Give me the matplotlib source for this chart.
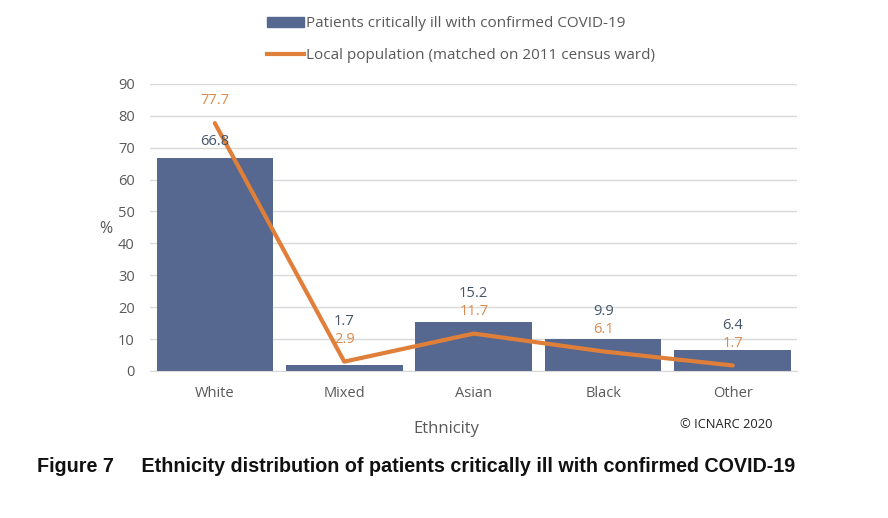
import matplotlib.pyplot as plt
from matplotlib.lines import Line2D
from matplotlib.patches import Patch

categories = ["White", "Mixed", "Asian", "Black", "Other"]
patients = [66.8, 1.7, 15.2, 9.9, 6.4]
population = [77.7, 2.9, 11.7, 6.1, 1.7]
yticks = [0, 10, 20, 30, 40, 50, 60, 70, 80, 90]

bar_col = "#56688F"
line_col = "#E07F39"
bar_lab = "#44546A"
line_lab = "#DA8A4E"
grey = "#595959"

plt.rcParams['font.family'] = ['Open Sans', 'DejaVu Sans']

fig = plt.figure(figsize=(8.88, 5.18), dpi=100)
ax = fig.add_axes([0.169, 0.284, 0.729, 0.554])

x = range(len(categories))
ax.bar(x, patients, width=0.9, color=bar_col, zorder=2)
ax.plot(x, population, color=line_col, lw=3, zorder=3, solid_capstyle='round')

fs = 10.5
for i, (b, p) in enumerate(zip(patients, population)):
    # line label sits above the point
    ax.annotate(f"{p}", (i, p), xytext=(0, 16), textcoords='offset points',
                ha='center', va='center', color=line_lab, fontsize=fs)
    if p > b + 5:
        # bar label just above the bar
        ax.annotate(f"{b}", (i, b), xytext=(0, 12), textcoords='offset points',
                    ha='center', va='center', color=bar_lab, fontsize=fs)
    else:
        # stack bar label above the line label
        ax.annotate(f"{b}", (i, p), xytext=(0, 29), textcoords='offset points',
                    ha='center', va='center', color=bar_lab, fontsize=fs)

ax.set_xlim(-0.5, len(categories) - 0.5)
ax.set_ylim(0, 90)
ax.set_yticks(yticks)
ax.set_xticks(list(x))
ax.set_xticklabels(categories)
ax.yaxis.grid(True, color="#D9D9D9", lw=1, zorder=0)
ax.set_axisbelow(True)
for s in ["top", "right", "left"]:
    ax.spines[s].set_visible(False)
ax.spines["bottom"].set_color("#D9D9D9")
ax.tick_params(axis='both', length=0, colors=grey, labelsize=10.5)
ax.tick_params(axis='y', pad=11)
ax.tick_params(axis='x', pad=11)

ax.set_xlabel("Ethnicity", color=grey, fontsize=12)
ax.xaxis.set_label_coords(0.457, -0.175)
ax.set_ylabel("%", color=grey, fontsize=11.5, rotation=0)
ax.yaxis.set_label_coords(-0.069, 0.465)

handles = [Patch(color=bar_col), Line2D([0], [0], color=line_col, lw=3)]
fig.legend(handles, ["Patients critically ill with confirmed COVID-19",
                     "Local population (matched on 2011 census ward)"],
           loc='upper center', bbox_to_anchor=(0.519, 0.995), frameon=False,
           fontsize=11, labelcolor=grey, handlelength=2.4, handletextpad=0.15,
           labelspacing=1.1)

fig.text(0.766, 0.174, "\u00a9 ICNARC 2020", fontsize=9.3, color="#222222")
fig.text(0.042, 0.088, "Figure 7     Ethnicity distribution of patients critically ill with confirmed COVID-19",
         fontsize=14.2, fontweight='bold', family=['Liberation Sans Narrow', 'Liberation Sans', 'DejaVu Sans'],
         color="#111111")

fig.savefig("out.png", dpi=100)
